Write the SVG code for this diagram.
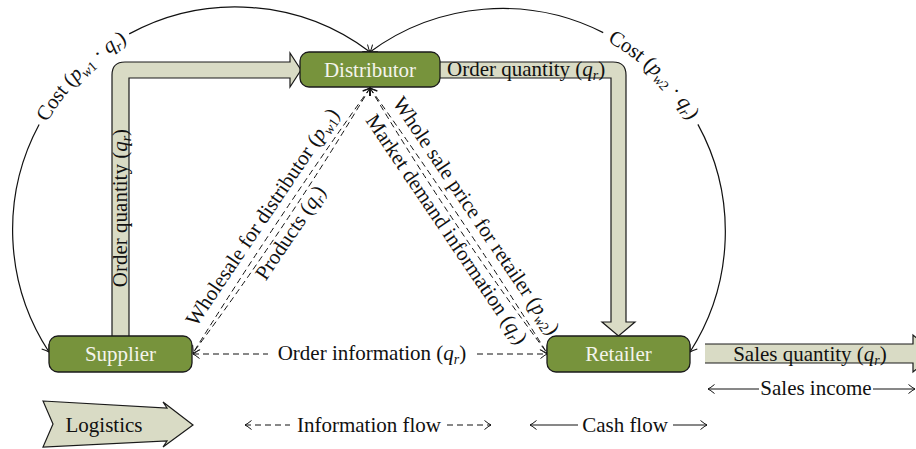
<svg xmlns="http://www.w3.org/2000/svg" width="916" height="449" viewBox="0 0 916 449">
<style>
text{font-family:"Liberation Serif","Times New Roman",serif;font-size:21px;fill:#111}
.node rect{fill:#77933c;stroke:#1a1a1a;stroke-width:1.3}
.node text{fill:#f4f4ec;text-anchor:middle}
.band{fill:#d9dbc5;stroke:#1a1a1a;stroke-width:1.2;stroke-linejoin:miter}
.arc{fill:none;stroke:#111;stroke-width:1.2}
.dash{fill:none;stroke:#111;stroke-width:1;stroke-dasharray:6,4}
.solid{fill:none;stroke:#111;stroke-width:1}
.i{font-style:italic}
.s{font-size:14px}
.m{text-anchor:middle}
</style>
<defs>
<marker id="ah" viewBox="-8 -5 10 10" refX="0" refY="0" markerWidth="10" markerHeight="10" markerUnits="userSpaceOnUse" orient="auto-start-reverse">
<path d="M-6.5,-4.5 Q-2.5,-1.2 0,0 Q-2.5,1.2 -6.5,4.5" fill="none" stroke="#111" stroke-width="1"/>
</marker>
<path id="arc1" d="M49,352 A223,223 0 0 1 370,52"/>
<path id="arc2" d="M370,52 A223,223 0 0 1 690,352"/>
</defs>

<g id="connectors">
<!-- cost arcs -->
<path class="arc" d="M49,352 A223,223 0 0 1 39.1,124.5" marker-start="url(#ah)"/>
<path class="arc" d="M129.2,33.9 A223,223 0 0 1 370,52" marker-end="url(#ah)"/>
<path class="arc" d="M370,52 A223,223 0 0 1 603.2,32.6" marker-start="url(#ah)"/>
<path class="arc" d="M697.9,124.4 A223,223 0 0 1 690,352" marker-end="url(#ah)"/>
<text dy="6"><textPath href="#arc1" startOffset="303.8" text-anchor="middle">Cost (<tspan class="i">p</tspan><tspan class="s i" dy="4">w</tspan><tspan class="s">1</tspan><tspan dy="-4"> · </tspan><tspan class="i">q</tspan><tspan class="s i" dy="4">r</tspan><tspan dy="-4">)</tspan></textPath></text>
<text dy="6"><textPath href="#arc2" startOffset="313.3" text-anchor="middle">Cost (<tspan class="i">p</tspan><tspan class="s i" dy="4">w</tspan><tspan class="s">2</tspan><tspan dy="-4"> · </tspan><tspan class="i">q</tspan><tspan class="s i" dy="4">r</tspan><tspan dy="-4">)</tspan></textPath></text>

<!-- logistics bands -->
<path class="band" d="M112,338 L112,75 Q112,62 125,62 L290,62 L290,53 L301,70 L290,87 L290,78 L129,78 L129,338 Z"/>
<path class="band" d="M438,62 L613,62 Q626,62 626,75 L626,322 L635,322 L618.5,336 L602,322 L611,322 L611,78 L438,78 Z"/>
<path d="M705,344 L913,344 L913,335 L935,353.5 L913,372 L913,363 L705,363 Z" fill="#d9dbc5"/>
<path d="M705,344 L913,344 L913,335 L935,353.5 L913,372 L913,363 L705,363" fill="none" stroke="#1a1a1a" stroke-width="1.2"/>
<text transform="translate(127,208) rotate(-90)" class="m">Order quantity (<tspan class="i">q</tspan><tspan class="s i" dy="4">r</tspan><tspan dy="-4">)</tspan></text>
<text x="447" y="76">Order quantity (<tspan class="i">q</tspan><tspan class="s i" dy="4">r</tspan><tspan dy="-4">)</tspan></text>
<text x="810" y="361" class="m">Sales quantity (<tspan class="i">q</tspan><tspan class="s i" dy="4">r</tspan><tspan dy="-4">)</tspan></text>

<!-- information flows -->
<path class="dash" d="M370,88 Q277.3,217.7 193,353" marker-start="url(#ah)" marker-end="url(#ah)"/>
<path class="dash" d="M370,88 Q288.2,225.1 193,353" marker-start="url(#ah)"/>
<path class="dash" d="M370,88 Q462.7,217.7 547,353" marker-start="url(#ah)" marker-end="url(#ah)"/>
<path class="dash" d="M370,88 Q451.8,225 547,353" marker-start="url(#ah)"/>
<path class="dash" d="M193,354 L268,354" marker-start="url(#ah)"/>
<path class="dash" d="M477,354 L547,354" marker-end="url(#ah)"/>
<text x="372" y="360" class="m">Order information (<tspan class="i">q</tspan><tspan class="s i" dy="4">r</tspan><tspan dy="-4">)</tspan></text>
<text transform="translate(276.4,226.4) rotate(-56)" y="-10" class="m">Wholesale for distributor (<tspan class="i">p</tspan><tspan class="s i" dy="4">w</tspan><tspan class="s">1</tspan><tspan dy="-4">)</tspan></text>
<text transform="translate(277.8,224.2) rotate(-56)" y="22" class="m">Products (<tspan class="i">q</tspan><tspan class="s i" dy="4">r</tspan><tspan dy="-4">)</tspan></text>
<text transform="translate(462.4,225.2) rotate(56)" y="-10" class="m">Whole sale price for retailer (<tspan class="i">p</tspan><tspan class="s i" dy="4">w</tspan><tspan class="s">2</tspan><tspan dy="-4">)</tspan></text>
<text transform="translate(459.3,220.7) rotate(56)" y="22" class="m">Market demand information (<tspan class="i">q</tspan><tspan class="s i" dy="4">r</tspan><tspan dy="-4">)</tspan></text>

<!-- sales income -->
<path class="solid" d="M708,389 L759,389" marker-start="url(#ah)"/>
<path class="solid" d="M873,389 L915,389" marker-end="url(#ah)"/>
<text x="816" y="395" class="m">Sales income</text>
</g>

<g id="distributor" class="node"><rect x="300" y="52" width="140" height="35" rx="9"/><text x="370" y="77">Distributor</text></g>
<g id="supplier" class="node"><rect x="49" y="336" width="143" height="36" rx="9"/><text x="120.5" y="361">Supplier</text></g>
<g id="retailer" class="node"><rect x="547" y="336" width="143" height="36" rx="9"/><text x="618.5" y="361">Retailer</text></g>

<g id="legend">
<path class="band" d="M43,401 L167,408 L163,402 L193,425 L163,447 L167,441 L43,447 L53,424 Z"/>
<text x="104" y="432" class="m">Logistics</text>
<path class="dash" d="M245,425 L290,425" stroke-dasharray="6,4" marker-start="url(#ah)"/>
<text x="369" y="432" class="m">Information flow</text>
<path class="dash" d="M447,425 L491,425" marker-end="url(#ah)"/>
<path class="solid" d="M530,425 L578,425" marker-start="url(#ah)"/>
<text x="625" y="432" class="m">Cash flow</text>
<path class="solid" d="M673,425 L707,425" marker-end="url(#ah)"/>
</g>
</svg>
